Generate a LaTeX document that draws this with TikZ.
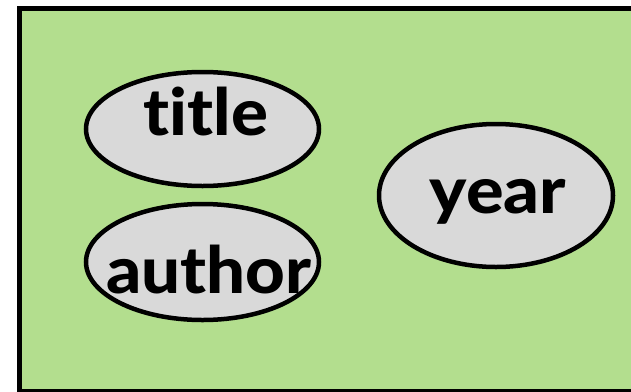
\documentclass[tikz,border=0pt]{standalone}
\usepackage{fontspec}
\setmainfont{Lato}
\newfontfamily\heavyfont{Lato Heavy}[Ligatures=NoCommon]
\usetikzlibrary{shapes.geometric}
\definecolor{boxgreen}{RGB}{179,222,142}
\definecolor{ovalgrey}{RGB}{217,217,217}
\newcommand{\widen}[2]{\scalebox{#1}[1]{#2}}
\tikzset{
  oval/.style={ellipse, draw=black, line width=4.5pt, fill=ovalgrey, inner sep=0pt},
  word/.style={anchor=base, inner sep=0pt, font=\heavyfont\fontsize{65}{65}\selectfont}
}
\begin{document}
\begin{tikzpicture}[x=1pt,y=-1pt]
\useasboundingbox (0,0) rectangle (631,391);
\node[draw=black, line width=5pt, fill=boxgreen, inner sep=0pt, minimum width=630pt, minimum height=383pt, anchor=north west] (frame) at (17,6) {};
\node[oval, minimum width=233pt, minimum height=114pt] (titleoval) at (202.5,129) {};
\node[oval, minimum width=233pt, minimum height=116pt] (authoroval) at (202.5,262) {};
\node[oval, minimum width=234pt, minimum height=143pt] (yearoval) at (496,195.5) {};
\node[word] (titletext) at (206,135) {\widen{1.06}{title}};
\node[word] (authortext) at (209,293) {\widen{1.06}{author}};
\node[word] (yeartext) at (498,213) {\widen{1.08}{year}};
\end{tikzpicture}
\end{document}
